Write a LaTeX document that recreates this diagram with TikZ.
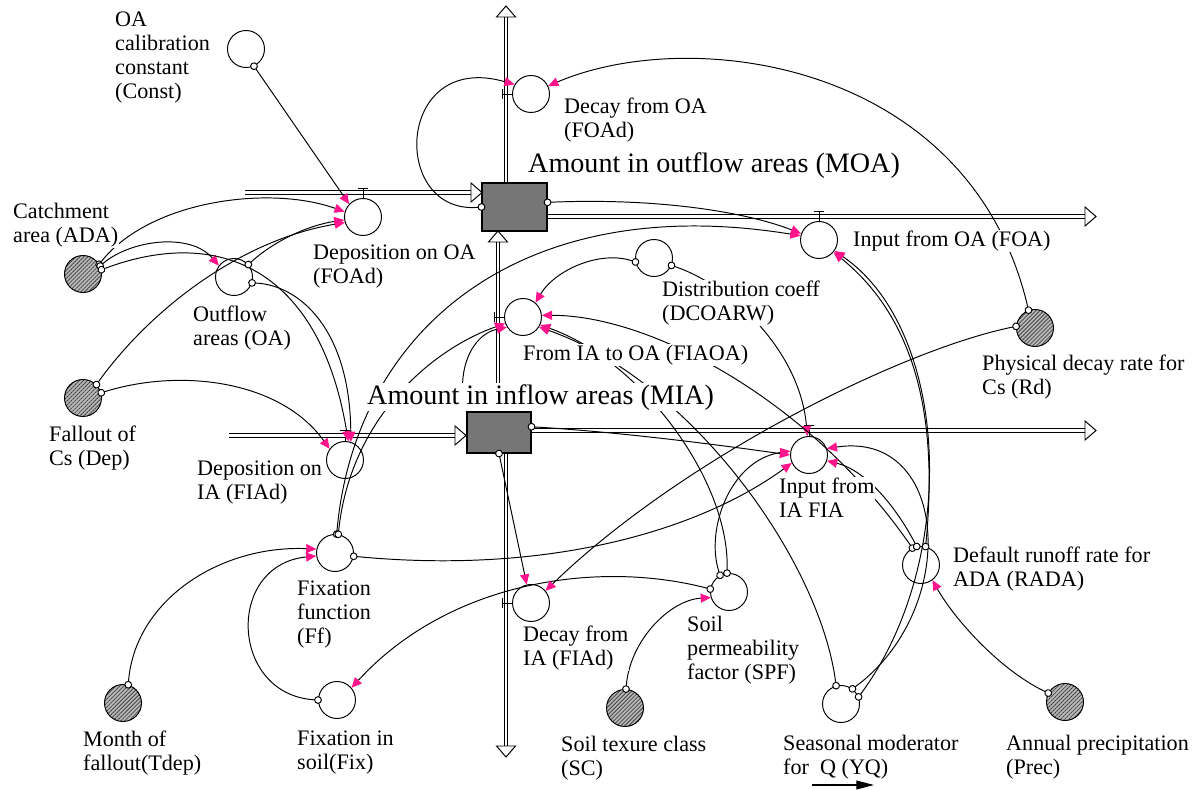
\documentclass[tikz,border=0pt]{standalone}
\usepackage{fontspec}
\setmainfont{Liberation Serif}
\usetikzlibrary{arrows.meta,patterns.meta}
\definecolor{hotpink}{RGB}{255,20,140}
\definecolor{stockgray}{RGB}{118,118,118}
\begin{document}
\begin{tikzpicture}[x=0.02cm, y=-0.02cm,
  aux/.style={circle, draw, fill=white, minimum size=0.74cm, inner sep=0pt, line width=0.55pt},
  shd/.style={circle, draw, minimum size=0.74cm, inner sep=0pt, line width=0.55pt,
    preaction={fill=gray!55}, pattern={Lines[angle=45,distance=1.6pt,line width=0.45pt]}, pattern color=black!75},
  stock/.style={rectangle, draw, fill=stockgray, inner sep=0pt, line width=0.6pt},
  pipe/.style={draw=black, double=white, double distance=1.7pt, line width=0.55pt},
  valve/.style={line width=0.55pt},
  conn/.style={line width=0.55pt, {Circle[length=4.4pt, width=4.4pt, fill=white]}-{Triangle[length=5.8pt, width=5.2pt, color=hotpink]}, shorten <=-2.2pt},
  connnt/.style={line width=0.55pt, -{Triangle[length=5.8pt, width=5.2pt, color=hotpink]}},
  lbl/.style={anchor=north west, align=left, fill=white, inner sep=0.5pt, font=\fontsize{12.6}{13.6}\selectfont},
  big/.style={anchor=north west, fill=white, inner sep=0.5pt, font=\fontsize{16}{19}\selectfont},
  phead/.pic={\draw[fill=white, line width=0.55pt] (-11,-9.5) -- (0,0) -- (-11,9.5) -- cycle;}
]
\useasboundingbox (0,0) rectangle (1200,790);

% ---------- flow pipes ----------
\draw[pipe] (245,192.5) -- (474,192.5);  \pic at (482,192.5) {phead};
\draw[pipe] (547,216.5) -- (1088,216.5); \pic at (1096,216.5) {phead};
\draw[pipe] (506,183) -- (506,15);       \pic[rotate=90] at (506,6) {phead};
\draw[pipe] (498,412) -- (498,240);      \pic[rotate=90] at (498,231) {phead};
\draw[pipe] (229,435.5) -- (458,435.5);  \pic at (466,435.5) {phead};
\draw[pipe] (531,430.5) -- (1088,430.5); \pic at (1096,430.5) {phead};
\draw[pipe] (506,453) -- (506,748);      \pic[rotate=-90] at (506,757) {phead};

% ---------- stocks ----------
\node[stock, minimum width=1.3cm, minimum height=0.96cm] (moa) at (514.5,207) {};
\node[stock, minimum width=1.28cm, minimum height=0.82cm] (mia) at (499,432.5) {};

% ---------- auxiliaries / valves ----------
\node[aux] (const) at (246,49) {};
\node[aux] (depoa) at (363,217) {};
\node[shd] (ada) at (83,274) {};
\node[aux] (oa) at (234,277) {};
\node[shd] (dep) at (83,398) {};
\node[aux] (depia) at (345,460) {};
\node[aux] (ff) at (335,553) {};
\node[shd] (tdep) at (123,703) {};
\node[aux] (fix) at (337,700) {};
\node[aux] (fiad) at (531,603) {};
\node[aux] (spf) at (729,592) {};
\node[shd] (sc) at (625,708) {};
\node[aux] (yq) at (841,704) {};
\node[aux] (rada) at (921,565) {};
\node[shd] (prec) at (1065,702) {};
\node[shd] (rd) at (1035,328) {};
\node[aux] (dcoarw) at (654,258) {};
\node[aux] (fiaoa) at (523,317) {};
\node[aux] (fia) at (809,455) {};
\node[aux] (foa) at (819,240) {};
\node[aux] (foad) at (531,94) {};

% valve marks
\draw[valve] (depoa.north) -- ++(0,-10) ++(-5,0) -- ++(10,0);
\draw[valve] (foa.north) -- ++(0,-10) ++(-5,0) -- ++(10,0);
\draw[valve] (depia.north) -- ++(0,-11) ++(-5,0) -- ++(10,0);
\draw[valve] (fia.north) -- ++(0,-11) ++(-5,0) -- ++(10,0);
\draw[valve] (foad.west) -- ++(-10,0) ++(0,-5) -- ++(0,10);
\draw[valve] (fiaoa.west) -- ++(-10,0) ++(0,-5) -- ++(0,10);
\draw[valve] (fiad.west) -- ++(-10,0) ++(0,-5) -- ++(0,10);

% ---------- connectors ----------
\draw[conn] (const.-65) -- (depoa.137);
\draw[conn] (ada.31) .. controls (150,200) and (270,185) .. (depoa.164);
\draw[conn] (ada.25) .. controls (130,240) and (190,232) .. (oa.143);
\draw[conn] (ada.13) .. controls (220,225) and (320,270) .. (depia.80);
\draw[conn] (oa.-18) .. controls (300,285) and (350,330) .. (depia.72);
\draw[conn] (oa.41) .. controls (275,240) and (310,225) .. (depoa.189);
\draw[conn] (dep.45) .. controls (150,310) and (240,240) .. (depoa.197);
\draw[conn] (dep.16) .. controls (180,368) and (280,380) .. (depia.144);
\draw[conn] (tdep.74) .. controls (135,600) and (220,545) .. (ff.168);
\draw[conn] (fix.180) .. controls (230,695) and (225,565) .. (ff.189);
\draw[conn] (spf.171) .. controls (600,560) and (450,580) .. (fix.40);
\draw[conn] (ff.-10) .. controls (550,575) and (700,530) .. (fia.205);
\draw[conn] (mia.south) -- (fiad.103);
\draw[conn] (mia.10) .. controls (620,432) and (720,445) .. (fia.180);
\draw[conn] (spf.118) .. controls (705,530) and (730,460) .. (fia.168);
\draw[conn] (spf.96) .. controls (730,480) and (640,360) .. (fiaoa.-25);
\draw[conn] (yq.105) .. controls (820,560) and (690,380) .. (fiaoa.-32);
\draw[conn] (dcoarw.192) .. controls (600,250) and (555,270) .. (fiaoa.49);
\draw[conn] (dcoarw.-23) .. controls (730,285) and (800,350) .. (fia.95);
\draw[conn] (rada.117) .. controls (810,400) and (650,315) .. (fiaoa.5);
\draw[conn] (rada.103) .. controls (895,505) and (865,470) .. (fia.-18);
\draw[conn] (yq.53) .. controls (960,610) and (950,430) .. (fia.20);
\draw[conn] (yq.22) .. controls (960,560) and (950,330) .. (foa.-35);
\draw[conn] (rada.76) .. controls (935,450) and (930,330) .. (foa.-40);
\draw[conn] (moa.west) .. controls (390,215) and (395,50) .. (foad.150);
\draw[conn] (moa.8) .. controls (650,198) and (740,210) .. (foa.160);
\draw[conn] (ff.85) .. controls (355,330) and (520,190) .. (foa.167);
\draw[conn] (ff.80) .. controls (350,420) and (430,350) .. (fiaoa.200);
\draw[connnt] (mia.north west) .. controls (455,375) and (470,335) .. (fiaoa.212);
\draw[conn] (rd.175) .. controls (900,350) and (680,460) .. (fiad.40);
\draw[conn] (rd.110) .. controls (970,60) and (690,25) .. (foad.25);
\draw[conn] (sc.87) .. controls (630,640) and (670,600) .. (spf.197);
\draw[conn] (prec.152) .. controls (1000,670) and (955,620) .. (rada.-53);

% ---------- labels ----------
\node[lbl] (lconst) at (114,11) {OA\\calibration\\constant\\(Const)};
\node[lbl] (lada) at (12,202) {Catchment\\area (ADA)};
\node[lbl, fill=none] (ldepoa) at (312,244) {Deposition on OA\\(FOAd)};
\node[lbl] (loa) at (192,305) {Outflow\\areas (OA)};
\node[lbl] (ldep) at (48,425) {Fallout of\\Cs (Dep)};
\node[lbl] (ldepia) at (196,460) {Deposition on\\IA (FIAd)};
\node[lbl] (lff) at (296,580) {Fixation\\function\\(Ff)};
\node[lbl] (ltdep) at (82,730) {Month of\\fallout(Tdep)};
\node[lbl] (lfix) at (296,730) {Fixation in\\soil(Fix)};
\node[lbl] (lfiad) at (522,625) {Decay from\\IA (FIAd)};
\node[lbl] (lspf) at (686,615) {Soil\\permeability\\factor (SPF)};
\node[lbl] (lsc) at (560,735) {Soil texure class\\(SC)};
\node[lbl] (lyq) at (782,734) {Seasonal moderator\\for\ \ Q (YQ)};
\node[lbl] (lprec) at (1005,734) {Annual precipitation\\(Prec)};
\node[lbl] (lrada) at (952,546) {Default runoff rate for\\ADA (RADA)};
\node[lbl] (lrd) at (981,354) {Physical decay rate for\\Cs (Rd)};
\node[lbl] (lfia) at (778,477) {Input from\\IA FIA};
\node[lbl] (lfoa) at (852,230) {Input from OA (FOA)};
\node[lbl] (lfoad) at (563,97) {Decay from OA\\(FOAd)};
\node[lbl] (ldc) at (661,280) {Distribution coeff\\(DCOARW)};
\node[lbl] (lfiaoa) at (522,344) {From IA to OA (FIAOA)};
\node[big] (lmoa) at (527,151) {Amount in outflow areas (MOA)};
\node[big] (lmia) at (366,383) {Amount in inflow areas (MIA)};

% arrow under the seasonal moderator label
\coordinate (ya1) at (812,785);
\coordinate (ya2) at (874,785);
\draw[line width=0.6pt, -{Triangle[length=10pt,width=5pt]}] (ya1) -- (ya2);
\end{tikzpicture}
\end{document}
